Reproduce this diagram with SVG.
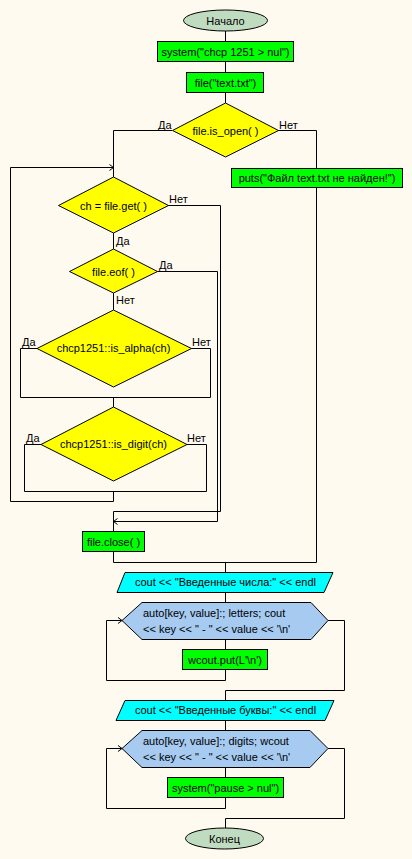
<svg xmlns="http://www.w3.org/2000/svg" width="412" height="859" viewBox="0 0 412 859">
<defs>
<marker id="ar" markerWidth="8" markerHeight="8" refX="6" refY="4" orient="auto" markerUnits="userSpaceOnUse">
<path d="M2,1 L6,4 L2,7" fill="none" stroke="#000" stroke-width="1"/>
</marker>
</defs>
<style>
text{font-family:"Liberation Sans",Arial,sans-serif;font-size:11px;fill:#000}
.c{text-anchor:middle}
.sh{stroke:#000;stroke-width:1}
.term{fill:#c0dcc0}
.proc{fill:#00ff00}
.dec{fill:#ffff00}
.io{fill:#00ffff}
.loop{fill:#a6caf0}
.ln{fill:none;stroke:#000;stroke-width:1}
</style>
<rect width="412" height="859" fill="#fffaf0"/>
<g id="connectors">
<path class="ln" d="M225.5,31 V41 M225.5,62 V72 M225.5,93 V103"/>
<path class="ln" d="M172,130.5 H113.5 V177"/>
<path class="ln" d="M278,130.5 H316.5 V168"/>
<path class="ln" d="M113.5,233 V249 M113.5,293 V310"/>
<path class="ln" d="M37,348.5 H20.5 V397.5 H210.5 V348.5 H191"/>
<path class="ln" d="M113.5,397.5 V407"/>
<path class="ln" d="M41,444.5 H24.5 V491.5 H206.5 V444.5 H187"/>
<path class="ln" d="M113.5,491.5 V501.5 H10.5 V167.5 H113.5" marker-end="url(#ar)"/>
<path class="ln" d="M168,205.5 H220.5 V511.5 H113.5"/>
<path class="ln" d="M157,271.5 H217.5 V521.5 H113.5" marker-end="url(#ar)"/>
<path class="ln" d="M113.5,511.5 V531"/>
<path class="ln" d="M113.5,551 V562.5 H316.5 V188"/>
<path class="ln" d="M225.5,562.5 V572 M225.5,592 V602 M225.5,639 V649"/>
<path class="ln" d="M225.5,669 V680.5 H106.5 V620.5 H122" marker-end="url(#ar)"/>
<path class="ln" d="M328,620.5 H344.5 V690.5 H225.5 V700"/>
<path class="ln" d="M225.5,720 V730 M225.5,767 V777"/>
<path class="ln" d="M225.5,797 V808.5 H106.5 V748.5 H122" marker-end="url(#ar)"/>
<path class="ln" d="M328,748.5 H344.5 V818.5 H225.5 V828"/>
</g>
<g id="start"><ellipse class="sh term" cx="225.5" cy="20.5" rx="42" ry="10.5"/><text class="c" x="225.5" y="24.5">Начало</text></g>
<g id="sys1"><rect class="sh proc" x="157.5" y="41.5" width="136" height="20"/><text class="c" x="225.5" y="55.5">system("chcp 1251 &gt; nul")</text></g>
<g id="file"><rect class="sh proc" x="186.5" y="72.5" width="77" height="20"/><text class="c" x="225.5" y="86.5">file("text.txt")</text></g>
<g id="isopen"><polygon class="sh dec" points="225.5,103 278.5,130.5 225.5,157 172.5,130.5"/><text class="c" x="225.5" y="134.5">file.is_open( )</text>
<text x="158" y="129">Да</text><text x="279" y="129">Нет</text></g>
<g id="puts"><rect class="sh proc" x="231.5" y="168.5" width="171" height="19"/><text class="c" x="317" y="182">puts("Файл text.txt не найден!")</text></g>
<g id="get"><polygon class="sh dec" points="113.5,177 168.5,205.5 113.5,233 58.5,205.5"/><text class="c" x="113.5" y="209.5">ch = file.get( )</text>
<text x="169" y="203">Нет</text><text x="116" y="245">Да</text></g>
<g id="eof"><polygon class="sh dec" points="113.5,249 157.5,271.5 113.5,293 69.5,271.5"/><text class="c" x="113.5" y="275.5">file.eof( )</text>
<text x="159" y="269">Да</text><text x="116" y="304">Нет</text></g>
<g id="alpha"><polygon class="sh dec" points="113.5,310 191.5,348.5 113.5,387 37,348.5"/><text class="c" x="113.5" y="352">chcp1251::is_alpha(ch)</text>
<text x="22" y="346">Да</text><text x="192" y="346">Нет</text></g>
<g id="digit"><polygon class="sh dec" points="113.5,407 187,444.5 113.5,481 41,444.5"/><text class="c" x="113.5" y="448">chcp1251::is_digit(ch)</text>
<text x="26" y="442">Да</text><text x="187" y="442">Нет</text></g>
<g id="close"><rect class="sh proc" x="82.5" y="531.5" width="62" height="20"/><text class="c" x="113.5" y="545.5">file.close( )</text></g>
<g id="out1"><polygon class="sh io" points="125,572.5 333,572.5 324,592.5 117,592.5"/><text class="c" x="225.5" y="586">cout &lt;&lt; "Введенные числа:" &lt;&lt; endl</text></g>
<g id="loop1"><polygon class="sh loop" points="142,602.5 311,602.5 328,620.5 311,639.5 142,639.5 122,620.5"/><text x="143" y="617">auto[key, value]:; letters; cout</text><text x="143" y="633">&lt;&lt; key &lt;&lt; " - " &lt;&lt; value &lt;&lt; '\n'</text></g>
<g id="wput"><rect class="sh proc" x="182.5" y="649.5" width="85" height="20"/><text class="c" x="225" y="663.5">wcout.put(L'\n')</text></g>
<g id="out2"><polygon class="sh io" points="125,700.5 334,700.5 325,720.5 116,720.5"/><text class="c" x="225.5" y="714">cout &lt;&lt; "Введенные буквы:" &lt;&lt; endl</text></g>
<g id="loop2"><polygon class="sh loop" points="142,730.5 310,730.5 328,748.5 310,767.5 142,767.5 122,748.5"/><text x="143" y="745">auto[key, value]:; digits; wcout</text><text x="143" y="761">&lt;&lt; key &lt;&lt; " - " &lt;&lt; value &lt;&lt; '\n'</text></g>
<g id="sys2"><rect class="sh proc" x="167.5" y="777.5" width="116" height="20"/><text class="c" x="225.5" y="791.5">system("pause &gt; nul")</text></g>
<g id="end"><ellipse class="sh term" cx="224.5" cy="838.5" rx="39" ry="10.5"/><text class="c" x="224.5" y="842.5">Конец</text></g>
</svg>
